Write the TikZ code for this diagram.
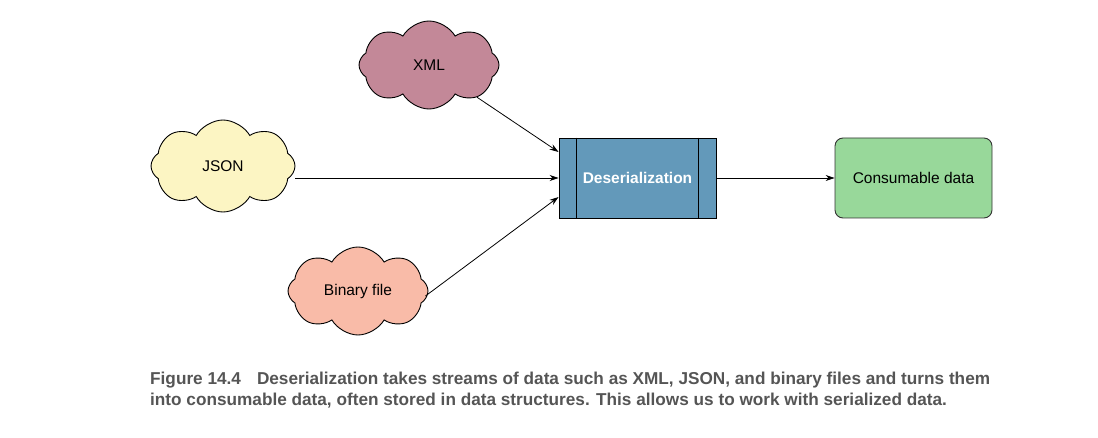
\documentclass[tikz,border=0pt]{standalone}
\usepackage{fontspec}
\setmainfont{Liberation Sans}
\newfontfamily\capfont{Liberation Sans}
\usetikzlibrary{shapes.symbols,arrows.meta}
\definecolor{xmlc}{HTML}{C38898}
\definecolor{jsonc}{HTML}{FCF5C3}
\definecolor{binc}{HTML}{F9BBA8}
\definecolor{desc}{HTML}{6399BA}
\definecolor{consc}{HTML}{98D89A}
\definecolor{capc}{HTML}{555555}
\tikzset{
  cloudnode/.style={cloud, cloud puffs=8, cloud puff arc=120, cloud ignores aspect,
    draw=black, line width=0.9pt, minimum width=140, minimum height=88, inner sep=0pt,
    font=\fontsize{15.5}{18}\selectfont},
  procbox/.style={rectangle, draw=black, line width=0.9pt, fill=desc, minimum width=157, minimum height=80,
    text=white, font=\fontsize{15.5}{18}\selectfont\bfseries},
  outbox/.style={rectangle, rounded corners=8pt, draw=black!80, line width=0.9pt, fill=consc,
    minimum width=157, minimum height=80, font=\fontsize{15.5}{18}\selectfont},
  arr/.style={-{Stealth[length=9pt,width=6pt]}, line width=0.8pt},
  captext/.style={anchor=north west, align=left, text=capc, inner sep=0pt,
    font=\capfont\bfseries\fontsize{17.2}{21}\selectfont}
}
\begin{document}
\begin{tikzpicture}[x=1pt,y=-1pt]
\useasboundingbox (0,0) rectangle (1098,438);
\node[cloudnode, fill=xmlc] (xml) at (429,65) {XML};
\node[cloudnode, fill=jsonc, minimum width=144, minimum height=92] (json) at (223,166) {JSON};
\node[cloudnode, fill=binc] (bin) at (358,291) {Binary file};
\node[procbox] (des) at (637.5,178) {Deserialization};
\draw[line width=0.9pt] ([xshift=18]des.north west) -- ([xshift=18]des.south west);
\draw[line width=0.9pt] ([xshift=-18]des.north east) -- ([xshift=-18]des.south east);
\node[outbox] (cons) at (913.5,178) {Consumable data};
\coordinate (t1) at ([yshift=26]des.west);
\coordinate (t3) at ([yshift=-19]des.west);
\coordinate (b0) at ([xshift=-3,yshift=-5]bin.east);
\draw[arr] (xml) -- (t1);
\draw[arr] (json.east |- des.west) -- (des.west);
\draw[arr] (b0) -- (t3);
\draw[arr] (des.east) -- (cons.west);
\node[captext] (cap) at (150,372) {Figure 14.4\hspace{16pt}Deserialization takes streams of data such as XML, JSON, and binary files and turns them\\into consumable data, often stored in data structures. This allows us to work with serialized data.};
\end{tikzpicture}
\end{document}
